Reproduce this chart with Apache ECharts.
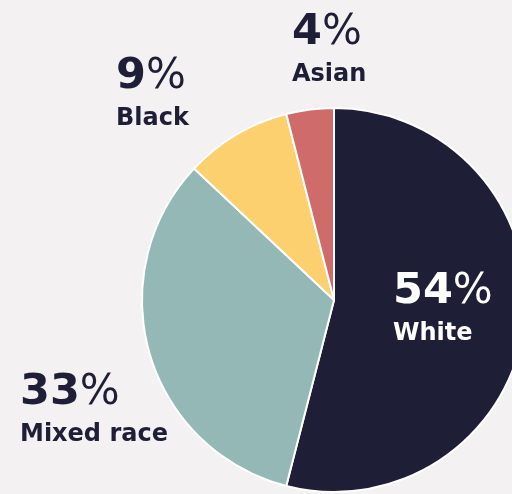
<!DOCTYPE html>
<html><head><meta charset="utf-8">
<script src="https://cdn.jsdelivr.net/npm/echarts@6/dist/echarts.min.js"></script>
<style>html,body{margin:0;padding:0;background:#f3f1f1;}#c{width:512px;height:494px;}</style>
</head><body><div id="c"></div>
<script>
const categories = ['White', 'Mixed race', 'Black', 'Asian'];
const values = [54, 33, 9, 4];
const colors = ['#1f1e37', '#93b8b5', '#fcd06f', '#d06b6b'];
const labelPos = [[393, 267], [20, 368], [116, 52], [292, 8]];
const labelColors = ['#ffffff', '#1f1e37', '#1f1e37', '#1f1e37'];
const FONT = '"DejaVu Sans", sans-serif';

const chart = echarts.init(document.getElementById('c'));
chart.setOption({
  backgroundColor: '#f3f1f1',
  animation: false,
  series: [{
    type: 'pie',
    center: [334, 300],
    radius: 192,
    startAngle: 90,
    clockwise: true,
    itemStyle: { borderColor: '#ffffff', borderWidth: 2 },
    labelLine: { show: false },
    data: categories.map((c, i) => ({
      name: c, value: values[i],
      itemStyle: { color: colors[i] },
      label: {
        color: labelColors[i],
        rich: {
          num: { fontFamily: FONT, fontWeight: 'bold', fontSize: 43, lineHeight: 50, color: labelColors[i] },
          pct: { fontFamily: FONT, fontWeight: 'normal', fontSize: 42, lineHeight: 50, color: labelColors[i] },
          nm: { fontFamily: FONT, fontWeight: 'bold', fontSize: 24, lineHeight: 34, color: labelColors[i] }
        }
      }
    })),
    label: {
      show: true,
      position: 'inside',
      align: 'left',
      formatter: p => '{num|' + p.value + '}{pct|%}\n{nm|' + p.name + '}'
    },
    labelLayout: p => ({
      x: labelPos[p.dataIndex][0],
      y: labelPos[p.dataIndex][1],
      align: 'left',
      verticalAlign: 'top'
    })
  }]
});
</script></body></html>
